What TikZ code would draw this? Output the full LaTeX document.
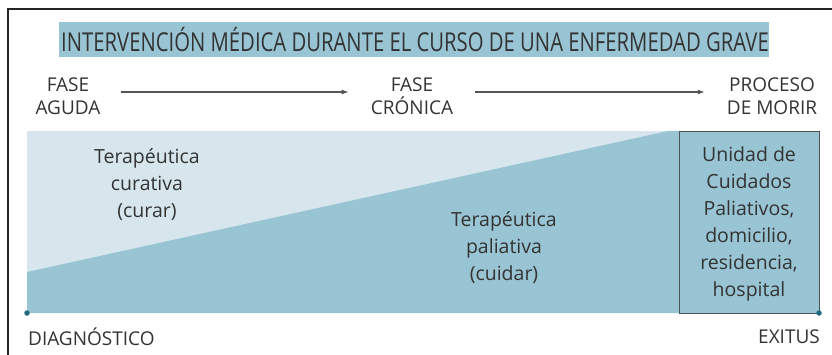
\documentclass[tikz,border=0pt]{standalone}
\usepackage{fontspec}
\usetikzlibrary{arrows.meta}
\setmainfont{Open Sans}
\newfontfamily\condfont[FakeStretch=0.78]{Open Sans}
\definecolor{bandblue}{HTML}{98C4D3}
\definecolor{lightblue}{HTML}{D6E6EC}
\definecolor{txt}{HTML}{333333}
\definecolor{arrowgray}{HTML}{555555}
\definecolor{boxborder}{HTML}{4A5356}
\definecolor{dotcol}{HTML}{1F6B80}
\begin{document}
\begin{tikzpicture}[x=1pt,y=-1pt,
  lbl/.style={text=txt,font=\fontsize{19}{23}\selectfont,align=center,inner sep=0pt},
  body/.style={text=txt,font=\fontsize{19.5}{27}\selectfont,align=center,inner sep=0pt},
  phasearrow/.style={draw=arrowgray,line width=1.1pt,-{Latex[length=7pt,width=5pt]}},
  dot/.style={circle,fill=dotcol,inner sep=0pt,minimum size=5.5pt}]
\useasboundingbox (0,0) rectangle (832,355);
% frame
\draw[line width=1.5pt,black!85] (8,355) -- (8,9) -- (832,9);
% title band
\fill[bandblue] (59,22) rectangle (769,57);
\node[text=txt,inner sep=0pt,font=\condfont\fontsize{26}{28}\selectfont] (title) at (415,40) {INTERVENCIÓN MÉDICA DURANTE EL CURSO DE UNA ENFERMEDAD GRAVE};
% phases
\node[lbl] (fa) at (68,96) {FASE\\AGUDA};
\node[lbl] (fc) at (412,96) {FASE\\CRÓNICA};
\node[lbl] (pm) at (772,96) {PROCESO\\DE MORIR};
\draw[phasearrow,shorten <=20pt,shorten >=22pt] (fa.east |- 0,92) -- (fc.west |- 0,92);
\draw[phasearrow,shorten <=22pt,shorten >=22pt] (fc.east |- 0,92) -- (pm.west |- 0,92);
% main area
\fill[lightblue] (27,131) rectangle (680,313);
\fill[bandblue] (27,272) -- (668,131) -- (680,131) -- (680,313) -- (27,313) -- cycle;
\node[draw=boxborder,line width=1.2pt,fill=bandblue,minimum width=140pt,minimum height=182pt,anchor=north west,inner sep=0pt] (box) at (679,131) {};
\node[body] (cur) at (147,185) {Terapéutica\\curativa\\(curar)};
\node[body] (pal) at (504,248) {Terapéutica\\paliativa\\(cuidar)};
\node[body] (boxtxt) at (749,224) {Unidad de\\Cuidados\\Paliativos,\\domicilio,\\residencia,\\hospital};
% timeline ends
\node[dot] (d1) at (27,313) {};
\node[dot] (d2) at (819,313) {};
\node[lbl,anchor=west] (diag) at (28,337) {DIAGNÓSTICO};
\node[lbl,anchor=east] (exit) at (820,337) {EXITUS};
\end{tikzpicture}
\end{document}
